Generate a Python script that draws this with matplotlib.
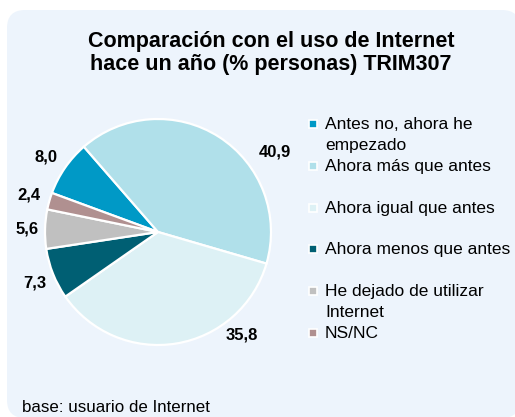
import matplotlib
matplotlib.use("Agg")
import matplotlib.pyplot as plt
from matplotlib.patches import FancyBboxPatch, Rectangle

plt.rcParams['font.family'] = ['Liberation Sans', 'DejaVu Sans']

# datos
categorias = ["Antes no, ahora he\nempezado", "Ahora más que antes",
              "Ahora igual que antes", "Ahora menos que antes",
              "He dejado de utilizar\nInternet", "NS/NC"]
valores = [8.0, 40.9, 35.8, 7.3, 5.6, 2.4]
colores = ["#0099C6", "#B0E0EA", "#DDF1F5", "#005F73", "#C0C0C0", "#B09090"]

# posicion de las etiquetas (coordenadas del pastel, radio 1)
pos_etiquetas = [(-0.99, 0.66), (1.03, 0.71), (0.74, -0.91),
                 (-1.09, -0.45), (-1.16, 0.03), (-1.14, 0.33)]

W, H = 515, 417
fig = plt.figure(figsize=(W / 100, H / 100), dpi=100, facecolor="white")

def px(x, y):
    return x / W, 1 - y / H

# fondo redondeado
fondo = FancyBboxPatch(px(7, 418), (520 - 7) / W, (418 - 10) / H,
                       boxstyle="round,pad=0,rounding_size=0.035",
                       transform=fig.transFigure, facecolor="#EDF4FC",
                       edgecolor="none", zorder=-5, mutation_aspect=W / H)
fig.patches.append(fondo)

fig.text(*px(271, 53), "Comparación con el uso de Internet\nhace un año (% personas) TRIM307",
         ha="center", va="center", fontsize=15.5, fontweight="bold",
         linespacing=1.12)

# pastel
cx, cy, r = 158, 232, 113
ax = fig.add_axes([(cx - r) / W, (H - cy - r) / H, 2 * r / W, 2 * r / H])
ax.set_zorder(2)
ax.pie(valores, colors=colores, startangle=131 + 360 * valores[0] / 100,
       counterclock=False, radius=1,
       wedgeprops=dict(edgecolor="white", linewidth=1.6))
ax.set_xlim(-1, 1)
ax.set_ylim(-1, 1)
ax.set_aspect("equal")
ax.axis("off")

for v, (x, y) in zip(valores, pos_etiquetas):
    ax.text(x, y, f"{v:.1f}".replace(".", ","), ha="center", va="center",
            fontsize=12, fontweight="bold", clip_on=False)

# leyenda
y0, paso = 124, 41.8
for i, (cat, col) in enumerate(zip(categorias, colores)):
    y = y0 + i * paso
    fig.patches.append(Rectangle(px(309, y + 4), 8 / W, 8 / H,
                                 transform=fig.transFigure, facecolor=col,
                                 edgecolor="white", linewidth=1.2, zorder=3))
    fig.text(*px(325, y - 7), cat, ha="left", va="top", fontsize=12.5,
             linespacing=1.5)

fig.text(*px(22, 408), "base: usuario de Internet", ha="left", va="center",
         fontsize=12.2)

fig.savefig("out.png", dpi=100, facecolor="white")
